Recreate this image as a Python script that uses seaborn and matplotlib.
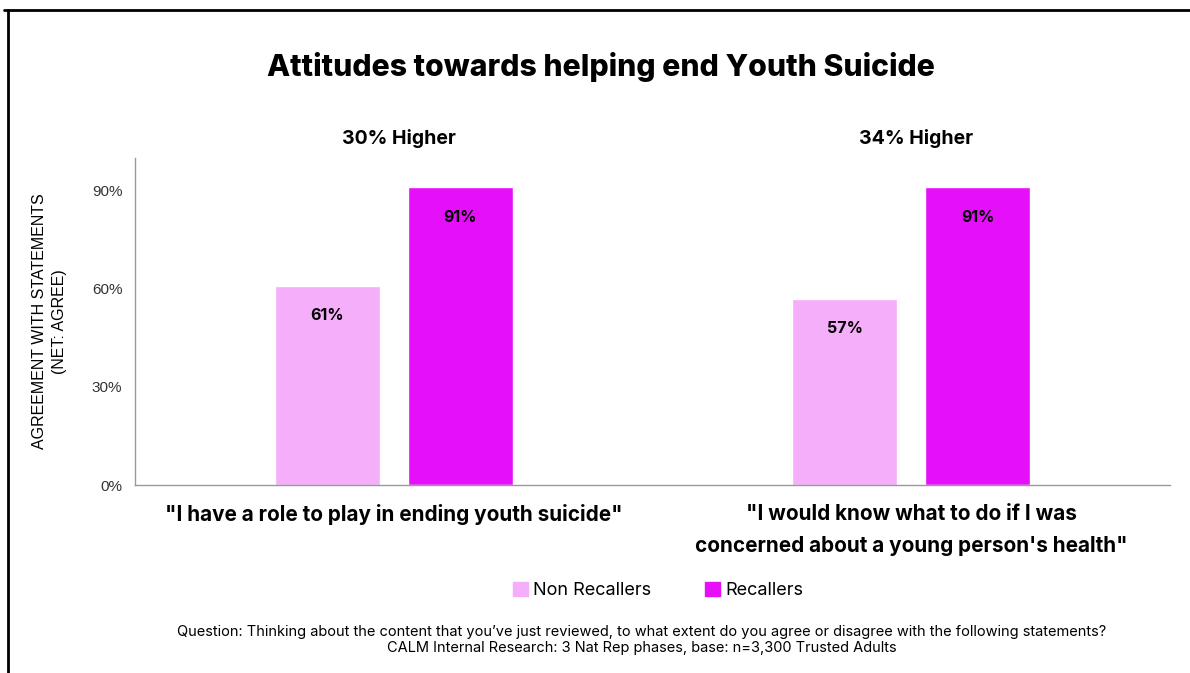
import pandas as pd
import numpy as np
import matplotlib.pyplot as plt
import seaborn as sns
from matplotlib.lines import Line2D
from matplotlib.patches import Patch

statements = ['"I have a role to play in ending youth suicide"',
              '"I would know what to do if I was\nconcerned about a young person\'s health"']
groups = ["Non Recallers", "Recallers"]
non_recallers = [61, 57]
recallers = [91, 91]
uplift = ["30% Higher", "34% Higher"]
yticks = [0, 30, 60, 90]

df = pd.DataFrame({
    "Statement": statements * 2,
    "Group": [groups[0]] * 2 + [groups[1]] * 2,
    "Agree": non_recallers + recallers,
})

palette = {"Non Recallers": "#F5AEFA", "Recallers": "#E60FFA"}

sns.set_style("white")
plt.rcParams['font.family'] = ['Inter', 'DejaVu Sans']
plt.rcParams['text.color'] = "black"

fig = plt.figure(figsize=(11.9, 6.73), dpi=100)
ax = fig.add_axes([0.1134, 0.2793, 0.8698, 0.4859])

sns.barplot(data=df, x="Statement", y="Agree", hue="Group", palette=palette,
            order=statements, hue_order=groups, width=0.514, gap=0.21,
            saturation=1, errorbar=None, ax=ax, legend=False)

ax.set_ylim(0, 100)
ax.set_xlim(-0.5, 1.5)
ax.set_yticks(yticks)
ax.set_yticklabels([f"{v}%" for v in yticks], fontfamily="Liberation Sans",
                   fontsize=11, color="#333333")
ax.tick_params(axis="y", length=3, color="#999999", pad=6)
ax.tick_params(axis="x", length=0, pad=14)
ax.set_xticks([0, 1])
ax.set_xticklabels(statements, fontsize=14.9, fontweight="bold", linespacing=1.75,
                   color="black")
ax.set_xlabel("")
ax.set_ylabel("AGREEMENT WITH STATEMENTS\n(NET: AGREE)", fontfamily="Liberation Sans",
              fontsize=11.5, labelpad=18, color="black", linespacing=1.45)

for s in ["top", "right"]:
    ax.spines[s].set_visible(False)
for s in ["left", "bottom"]:
    ax.spines[s].set_color("#999999")
    ax.spines[s].set_linewidth(1)

for cont in ax.containers:
    ax.bar_label(cont, labels=[f"{v:.0f}%" for v in cont.datavalues],
                 label_type="edge", padding=-27, fontsize=11.5, fontweight="bold",
                 color="black")

for i, txt in enumerate(uplift):
    ax.text(i + 0.01, 1.03, txt, transform=ax.get_xaxis_transform(), ha="center",
            va="bottom", fontsize=14, fontweight="bold")

fig.text(0.505, 0.9, "Attitudes towards helping end Youth Suicide", ha="center",
         va="center", fontsize=21.7, fontweight="heavy")

handles = [Patch(color=palette[g]) for g in groups]
fig.legend(handles, groups, loc="center", bbox_to_anchor=(0.553, 0.122), ncols=2,
           frameon=False, fontsize=13, handlelength=0.8, handleheight=0.8,
           handletextpad=0.3, columnspacing=3.0)

fig.text(0.539, 0.049, "Question: Thinking about the content that you\u2019ve just reviewed, to what extent do you agree or disagree with the following statements?\nCALM Internal Research: 3 Nat Rep phases, base: n=3,300 Trusted Adults",
         ha="center", va="center", fontsize=10.5, linespacing=1.15)

# frame lines (top and left only)
fig.add_artist(Line2D([0.003, 1.0], [0.985, 0.985], color="black", lw=2))
fig.add_artist(Line2D([0.0068, 0.0068], [0.0, 0.985], color="black", lw=2))

plt.savefig("out.png", dpi=100)
